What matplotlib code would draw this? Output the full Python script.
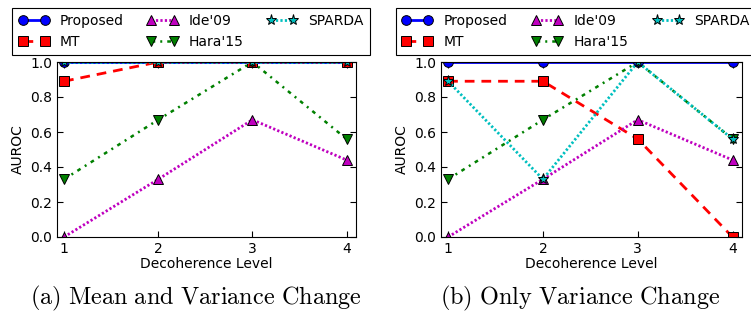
import matplotlib
matplotlib.use("Agg")
import matplotlib.pyplot as plt

plt.rcParams['font.family'] = ['DejaVu Sans']
plt.rcParams['mathtext.fontset'] = 'cm'
plt.rcParams['xtick.direction'] = 'in'
plt.rcParams['ytick.direction'] = 'in'
plt.rcParams['xtick.top'] = True
plt.rcParams['ytick.right'] = True

levels = [1, 2, 3, 4]
methods = ["Proposed", "MT", "Ide'09", "Hara'15", "SPARDA"]

# (a) mean and variance change
proposed_a = [1.0, 1.0, 1.0, 1.0]
mt_a = [0.89, 1.0, 1.0, 1.0]
ide_a = [0.0, 0.33, 0.67, 0.44]
hara_a = [0.33, 0.67, 1.0, 0.56]
sparda_a = [1.0, 1.0, 1.0, 1.0]

# (b) only variance change
proposed_b = [1.0, 1.0, 1.0, 1.0]
mt_b = [0.89, 0.89, 0.56, 0.0]
ide_b = [0.0, 0.33, 0.67, 0.44]
hara_b = [0.33, 0.67, 1.0, 0.56]
sparda_b = [0.89, 0.33, 1.0, 0.56]

captions = ["(a) Mean and Variance Change", "(b) Only Variance Change"]

# color, marker, dash pattern (None = solid)
styles = [
    ('b', 'o', None),
    ('r', 's', (3.5, 2.5)),
    ('m', '^', (0.8, 0.8)),
    ('g', 'v', (1.5, 2.0, 0.8, 2.0)),
    ('c', '*', (0.8, 0.8)),
]

fig = plt.figure(figsize=(7.51, 3.12), dpi=100)
ax_a = fig.add_axes([57 / 751, 1 - 237 / 312, 299 / 751, 175 / 312])
ax_b = fig.add_axes([441 / 751, 1 - 237 / 312, 301 / 751, 175 / 312])

panels = [
    (ax_a, [proposed_a, mt_a, ide_a, hara_a, sparda_a]),
    (ax_b, [proposed_b, mt_b, ide_b, hara_b, sparda_b]),
]

for i, (ax, series) in enumerate(panels):
    for name, vals, (col, mk, dash) in zip(methods, series, styles):
        line, = ax.plot(levels, vals, color=col, marker=mk,
                        markersize=8 if mk == '*' else 7,
                        markerfacecolor=col, markeredgecolor='k', markeredgewidth=0.7,
                        linewidth=2 if mk != 'v' else 1.8, label=name)
        if dash is not None:
            line.set_dashes(dash)
    ax.set_xlim(0.925, 4.1)
    ax.set_ylim(0.0, 1.0)
    ax.set_xticks(levels)
    ax.set_yticks([0.0, 0.2, 0.4, 0.6, 0.8, 1.0])
    ax.set_yticklabels(['0.0', '0.2', '0.4', '0.6', '0.8', '1.0'])
    ax.tick_params(labelsize=10, length=4, width=0.8)
    ax.set_xlabel('Decoherence Level', fontsize=10, labelpad=1)
    ax.set_ylabel('AUROC', fontsize=10, labelpad=4)
    leg = ax.legend(loc='lower left', bbox_to_anchor=(-0.15, 1.04, 1.197, 0.26), mode='expand',
                    ncol=3, borderaxespad=0, fontsize=10, numpoints=2, handlelength=2.2,
                    fancybox=False, edgecolor='k', framealpha=1, labelspacing=0.5,
                    handletextpad=0.8, borderpad=0.45, markerscale=1.0)
    leg.get_frame().set_linewidth(0.8)
    cx = (ax.get_position().x0 + ax.get_position().x1) / 2 - 11 / 751
    fig.text(cx, 1 - 298 / 312, r'$\mathrm{' + captions[i].replace(' ', r'\ ') + '}$',
             ha='center', va='center', fontsize=17.5)

fig.savefig('out.png', dpi=100)
